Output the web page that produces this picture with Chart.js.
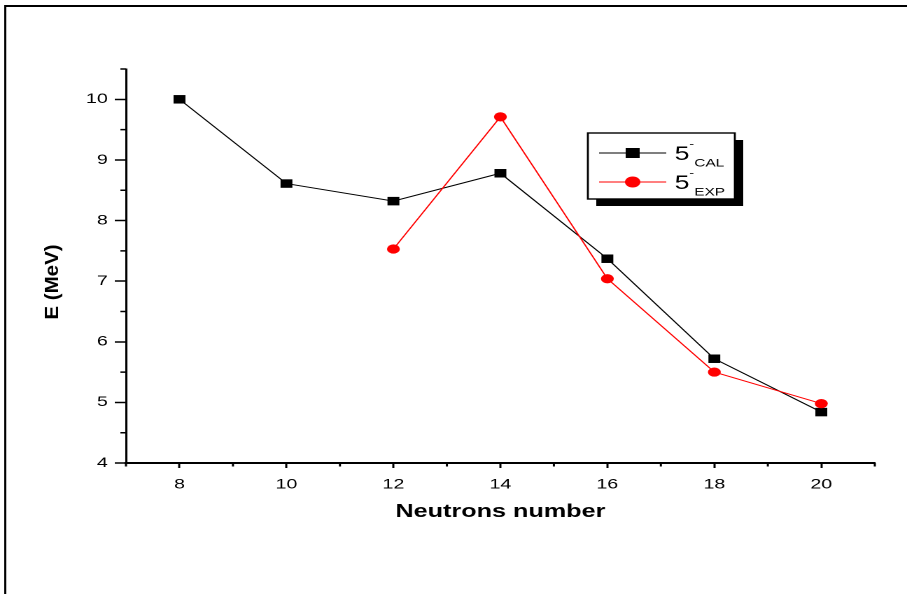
<!DOCTYPE html>
<html>
<head>
<meta charset="utf-8">
<script src="https://cdn.jsdelivr.net/npm/chart.js@4.4.1/dist/chart.umd.min.js"></script>
<style>
  html, body { margin: 0; padding: 0; background: #fff; overflow: hidden; }
</style>
</head>
<body>
<!-- drawn 648 wide and stretched sideways to 907 for the wide lettering -->
<canvas id="plot" width="648" height="594" style="width:907px;height:594px"></canvas>
<script>
// neutron number on x, energy of the 5- state in MeV on y
const neutrons = [8, 10, 12, 14, 16, 18, 20];
const calE = [10.0, 8.61, 8.32, 8.78, 7.37, 5.72, 4.84];
const expE = [null, null, 7.53, 9.71, 7.04, 5.50, 4.98];
const seriesNames = ['CAL', 'EXP'];
const stateLabel = '5';
const xTitle = 'Neutrons number';
const yTitle = 'E (MeV)';

const FONT = '"Liberation Sans", Arial, sans-serif';
Chart.defaults.font.family = FONT;
Chart.defaults.color = '#000';

// white page with the frame line along top and left
const frame = {
    id: 'frame',
    beforeDraw(chart) {
        const ctx = chart.ctx;
        ctx.save();
        ctx.fillStyle = '#fff';
        ctx.fillRect(0, 0, chart.width, chart.height);
        ctx.fillStyle = '#000';
        ctx.fillRect(3, 5, chart.width, 2);
        ctx.fillRect(3, 5, 1.5, chart.height);
        ctx.restore();
    }
};

// short ticks between the labelled ones
const minorTicks = {
    id: 'minorTicks',
    afterDraw(chart) {
        const ctx = chart.ctx;
        const xs = chart.scales.x, ys = chart.scales.y;
        ctx.save();
        ctx.strokeStyle = '#000';
        ctx.lineWidth = 1.5;
        ctx.beginPath();
        xs.ticks.forEach(t => {
            if (t.value % 2 !== 0) {
                const px = xs.getPixelForValue(t.value);
                ctx.moveTo(px, xs.top);
                ctx.lineTo(px, xs.top + 3.5);
            }
        });
        ys.ticks.forEach(t => {
            if (!Number.isInteger(t.value)) {
                const py = ys.getPixelForValue(t.value);
                ctx.moveTo(ys.right, py);
                ctx.lineTo(ys.right - 4, py);
            }
        });
        ctx.stroke();
        ctx.restore();
    }
};

// y title: narrow bold text, sitting a bit below the middle of the axis
const yAxisTitle = {
    id: 'yAxisTitle',
    afterDraw(chart) {
        const ctx = chart.ctx;
        const ys = chart.scales.y;
        ctx.save();
        ctx.translate(ys.left + 11, (ys.top + ys.bottom) / 2 + 16);
        ctx.rotate(-Math.PI / 2);
        ctx.scale(1, 0.66);
        ctx.font = 'bold 20.5px ' + FONT;
        ctx.fillStyle = '#000';
        ctx.textAlign = 'center';
        ctx.textBaseline = 'middle';
        ctx.fillText(yTitle, 0, 0);
        ctx.restore();
    }
};

// legend box with shadow, 5^- with CAL / EXP subscript
const legendBox = {
    id: 'legendBox',
    afterDraw(chart) {
        const ctx = chart.ctx;
        const x0 = 420, y0 = 133, w = 105, h = 66;
        ctx.save();
        ctx.fillStyle = '#000';
        ctx.fillRect(x0 + 6, y0 + 7, w, h);
        ctx.fillStyle = '#fff';
        ctx.fillRect(x0, y0, w, h);
        ctx.strokeStyle = '#000';
        ctx.lineWidth = 1.4;
        ctx.strokeRect(x0, y0, w, h);

        chart.data.datasets.forEach((ds, i) => {
            const ly = y0 + 20 + i * 29;
            ctx.strokeStyle = ds.borderColor;
            ctx.lineWidth = 1;
            ctx.beginPath();
            ctx.moveTo(x0 + 8, ly);
            ctx.lineTo(x0 + 56, ly);
            ctx.stroke();

            const mx = x0 + 32;
            ctx.fillStyle = ds.pointBackgroundColor;
            if (ds.pointStyle === 'rect') {
                ctx.fillRect(mx - 5, ly - 5, 10, 10);
            } else {
                ctx.beginPath();
                ctx.arc(mx, ly, 5.5, 0, Math.PI * 2);
                ctx.fill();
            }

            ctx.fillStyle = '#000';
            ctx.textBaseline = 'alphabetic';
            ctx.textAlign = 'left';
            ctx.font = '19px ' + FONT;
            ctx.fillText(stateLabel, x0 + 62, ly + 7);
            ctx.font = '10px ' + FONT;
            ctx.fillText('-', x0 + 72.5, ly - 5.5);
            ctx.font = '11px ' + FONT;
            ctx.fillText(ds.label, x0 + 76, ly + 13.5);
        });
        ctx.restore();
    }
};

new Chart(document.getElementById('plot'), {
    type: 'line',
    data: {
        datasets: [
            {
                label: seriesNames[0],
                data: neutrons.map((n, i) => ({ x: n, y: calE[i] })),
                borderColor: '#000',
                backgroundColor: '#000',
                pointBackgroundColor: '#000',
                pointBorderWidth: 0,
                pointStyle: 'rect',
                pointRadius: 6,
                borderWidth: 1,
                tension: 0,
                order: 1
            },
            {
                label: seriesNames[1],
                data: neutrons.map((n, i) => ({ x: n, y: expE[i] })),
                borderColor: '#ff0000',
                backgroundColor: '#ff0000',
                pointBackgroundColor: '#ff0000',
                pointBorderWidth: 0,
                pointStyle: 'circle',
                pointRadius: 4.6,
                borderWidth: 1,
                tension: 0,
                order: 0
            }
        ]
    },
    options: {
        responsive: false,
        maintainAspectRatio: false,
        devicePixelRatio: 2,
        animation: false,
        layout: { padding: { top: 69, right: 23, bottom: 71, left: 27 } },
        plugins: {
            legend: { display: false },
            tooltip: { enabled: false }
        },
        scales: {
            x: {
                type: 'linear',
                min: 7,
                max: 21,
                afterFit(s) { s.height = 60; },
                border: { color: '#000', width: 2 },
                grid: {
                    drawOnChartArea: false,
                    tickLength: 5,
                    tickWidth: 1.5,
                    tickColor: c => (c.tick && c.tick.value % 2 === 0) ? '#000' : 'rgba(0,0,0,0)'
                },
                ticks: {
                    stepSize: 1,
                    autoSkip: false,
                    maxRotation: 0,
                    padding: 8,
                    font: { size: 14 },
                    callback: v => (v % 2 === 0 ? v : '')
                },
                title: {
                    display: true,
                    text: xTitle,
                    font: { size: 18, weight: 'bold' },
                    padding: 0
                }
            },
            y: {
                min: 4,
                max: 10.5,
                afterFit(s) { s.width = 63; },
                border: { color: '#000', width: 1.5 },
                grid: {
                    drawOnChartArea: false,
                    tickLength: 8,
                    tickWidth: 1.5,
                    tickColor: c => (c.tick && Number.isInteger(c.tick.value)) ? '#000' : 'rgba(0,0,0,0)'
                },
                ticks: {
                    stepSize: 0.5,
                    autoSkip: false,
                    padding: 5,
                    font: { size: 14 },
                    callback: v => (Number.isInteger(v) ? v : '')
                },
                title: { display: false }
            }
        }
    },
    plugins: [frame, minorTicks, yAxisTitle, legendBox]
});
</script>
</body>
</html>
